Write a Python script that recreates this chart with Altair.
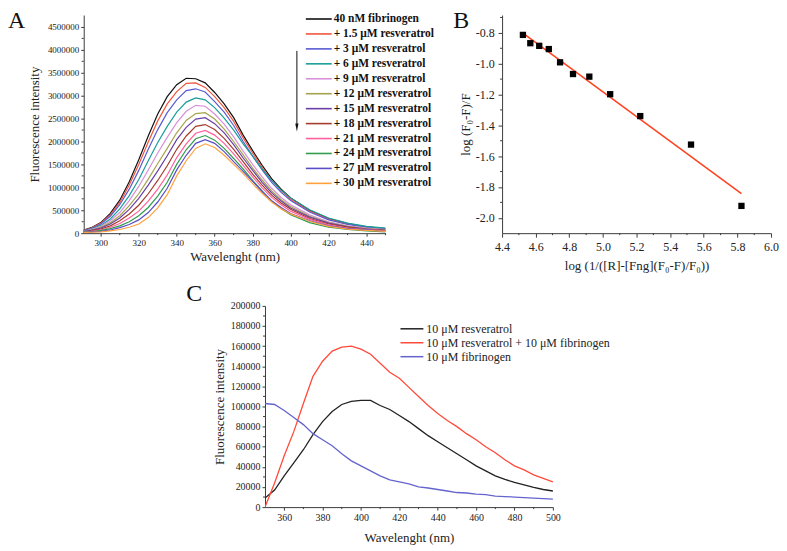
import altair as alt
import pandas as pd

FONT = "Liberation Serif"
INK = "#222222"
AXC = "#3c3c3c"

# ---------------- Panel A : fluorescence quenching spectra ----------------
wl_a = [290, 295, 300, 305, 310, 315, 320, 325, 330, 335, 340, 345, 350, 355,
        360, 365, 370, 375, 380, 385, 390, 395, 400, 410, 420, 430, 440, 450]
names_a = ["40 nM fibrinogen", "+ 1.5 μM resveratrol", "+ 3 μM resveratrol",
           "+ 6 μM resveratrol", "+ 9 μM resveratrol", "+ 12 μM resveratrol",
           "+ 15 μM resveratrol", "+ 18 μM resveratrol", "+ 21 μM resveratrol",
           "+ 24 μM resveratrol", "+ 27 μM resveratrol", "+ 30 μM resveratrol"]
colors_a = ["#111111", "#f2553c", "#5a5ad2", "#1a9c9c", "#d890d8", "#a4a44c",
            "#6b3fa6", "#a53c2d", "#ff5f9c", "#2f9d4c", "#5b4dc8", "#ffa23f"]
# intensities in units of 1e6
a0 = [.05, .12, .23, .43, .72, 1.12, 1.60, 2.12, 2.60, 2.98, 3.24, 3.38, 3.37, 3.28,
      3.07, 2.82, 2.52, 2.14, 1.80, 1.48, 1.19, .96, .77, .50, .32, .21, .14, .10]
a1 = [.05, .11, .22, .40, .67, 1.05, 1.50, 1.99, 2.45, 2.82, 3.09, 3.27, 3.28, 3.18,
      2.98, 2.74, 2.44, 2.08, 1.75, 1.43, 1.15, .93, .74, .48, .31, .20, .13, .10]
a2 = [.04, .10, .20, .37, .62, .96, 1.37, 1.83, 2.26, 2.63, 2.91, 3.11, 3.15, 3.08,
      2.87, 2.64, 2.35, 2.00, 1.68, 1.38, 1.11, .89, .71, .46, .29, .19, .13, .09]
a3 = [.04, .09, .17, .31, .53, .82, 1.17, 1.58, 1.98, 2.33, 2.64, 2.86, 2.95, 2.91,
      2.74, 2.51, 2.25, 1.95, 1.68, 1.40, 1.15, .94, .77, .51, .33, .22, .15, .11]
a4 = [.03, .08, .15, .27, .45, .71, 1.02, 1.38, 1.75, 2.09, 2.41, 2.66, 2.79, 2.77,
      2.60, 2.38, 2.10, 1.79, 1.50, 1.23, .98, .78, .62, .40, .25, .16, .11, .08]
a5 = [.03, .07, .13, .23, .38, .60, .86, 1.18, 1.52, 1.85, 2.19, 2.46, 2.61, 2.63,
      2.49, 2.27, 2.00, 1.71, 1.42, 1.16, .92, .73, .58, .37, .23, .15, .10, .07]
a6 = [.03, .06, .11, .20, .33, .52, .76, 1.05, 1.36, 1.69, 2.04, 2.31, 2.49, 2.52,
      2.39, 2.19, 1.93, 1.64, 1.37, 1.11, .88, .70, .55, .35, .22, .14, .09, .06]
a7 = [.02, .05, .09, .16, .27, .42, .61, .86, 1.15, 1.47, 1.83, 2.12, 2.33, 2.37,
      2.26, 2.07, 1.83, 1.56, 1.29, 1.05, .83, .66, .52, .32, .20, .13, .08, .06]
a8 = [.02, .04, .07, .13, .21, .33, .48, .70, .96, 1.27, 1.65, 1.95, 2.18, 2.24,
      2.14, 1.96, 1.73, 1.48, 1.23, .99, .78, .62, .48, .30, .18, .11, .08, .05]
a9 = [.02, .03, .06, .10, .16, .25, .38, .56, .81, 1.11, 1.50, 1.82, 2.06, 2.13,
      2.03, 1.85, 1.63, 1.40, 1.15, .92, .70, .54, .40, .23, .13, .08, .05, .03]
a10 = [.01, .03, .04, .07, .12, .19, .29, .45, .68, .98, 1.38, 1.70, 1.96, 2.04,
       1.96, 1.78, 1.56, 1.35, 1.13, .91, .71, .56, .43, .27, .16, .10, .07, .04]
a11 = [.01, .02, .03, .05, .08, .13, .20, .34, .55, .84, 1.25, 1.58, 1.85, 1.95,
       1.87, 1.70, 1.50, 1.30, 1.08, .87, .68, .53, .42, .26, .15, .09, .06, .04]
values_a = [a0, a1, a2, a3, a4, a5, a6, a7, a8, a9, a10, a11]
ticks_x_a = [300, 320, 340, 360, 380, 400, 420, 440]
minor_x_a = [310, 330, 350, 370, 390, 410, 430, 450]
ticks_y_a = [0, 500000, 1000000, 1500000, 2000000, 2500000, 3000000, 3500000, 4000000, 4500000]
minor_y_a = [250000, 750000, 1250000, 1750000, 2250000, 2750000, 3250000, 3750000, 4250000]

# ---------------- Panel B : double-log plot ----------------
b_x = [4.524, 4.568, 4.621, 4.678, 4.745, 4.822, 4.919, 5.043, 5.222, 5.524, 5.824]
b_y = [-0.813, -0.867, -0.884, -0.905, -0.991, -1.067, -1.084, -1.198, -1.340, -1.525, -1.923]
ticks_x_b = [4.4, 4.6, 4.8, 5.0, 5.2, 5.4, 5.6, 5.8, 6.0]
minor_x_b = [4.5, 4.7, 4.9, 5.1, 5.3, 5.5, 5.7, 5.9]
ticks_y_b = [-2.0, -1.8, -1.6, -1.4, -1.2, -1.0, -0.8]
minor_y_b = [-1.9, -1.7, -1.5, -1.3, -1.1, -0.9, -0.7]

# ---------------- Panel C : resveratrol emission ----------------
wl_c = [350, 355, 360, 365, 370, 375, 380, 385, 390, 395, 400, 405, 410, 415, 420, 425,
        430, 435, 440, 445, 450, 455, 460, 465, 470, 475, 480, 485, 490, 495, 500]
names_c = ["10 μM resveratrol", "10 μM resveratrol + 10 μM fibrinogen", "10 μM fibrinogen"]
colors_c = ["#222222", "#ff4a3a", "#6464cc"]
# intensities in units of 1e3
c_res = [9, 17, 31, 44, 57, 72, 85, 95, 102, 105, 106, 106, 101, 97, 91, 85,
         78, 71, 65, 59, 53, 47, 41, 36, 31, 27.5, 24.5, 22, 19.5, 17.5, 16]
c_mix = [0, 24, 51, 75, 103, 130, 145, 155, 159, 160, 157, 152, 143, 134, 128, 119,
         110, 101, 93, 86, 80, 73, 67, 60, 54, 47, 41, 37, 32, 28.5, 25]
c_fng = [103, 102, 96, 89, 82, 73, 67, 61, 53, 46, 41, 36, 31, 27, 25, 23,
         20, 19, 17.5, 16, 14.5, 14, 13, 12.5, 11, 10.5, 10, 9.5, 9, 8.5, 8]
values_c = [c_res, c_mix, c_fng]
ticks_x_c = [360, 380, 400, 420, 440, 460, 480, 500]
minor_x_c = [370, 390, 410, 430, 450, 470, 490]
ticks_y_c = [0, 20000, 40000, 60000, 80000, 100000, 120000, 140000, 160000, 180000, 200000]
minor_y_c = [10000, 30000, 50000, 70000, 90000, 110000, 130000, 150000, 170000, 190000]


def axis(values, title, fmt, lsize, tsize, tick, pad, tpad, expr=None):
    kw = dict(values=values, title=title, format=fmt, labelFont=FONT, labelFontSize=lsize,
              labelColor=INK, titleFont=FONT, titleFontSize=tsize, titleFontWeight="normal",
              titleColor=INK, tickSize=tick, labelPadding=pad, titlePadding=tpad,
              domainColor=AXC, tickColor=AXC, grid=False, labelFlush=False,
              labelOverlap=False, domainWidth=1, tickWidth=1)
    if expr is not None:
        kw["labelExpr"] = expr
    return alt.Axis(**kw)


def panel_label(letter, dx, dy):
    return alt.Chart(pd.DataFrame({"t": [letter]})).mark_text(
        font=FONT, fontSize=24, align="left", baseline="top", color="#111111"
    ).encode(text="t:N", x=alt.value(dx), y=alt.value(dy))


def ghost(x, y):
    return alt.Chart(pd.DataFrame({"g": [0]})).mark_rule(opacity=0, strokeWidth=0).encode(
        x=alt.value(x), y=alt.value(y), y2=alt.value(y + 1))


def minor_x(field, vals, scale, ax, h):
    return alt.Chart(pd.DataFrame({field: vals})).mark_rule(color=AXC, strokeWidth=1).encode(
        x=alt.X(f"{field}:Q", scale=scale, axis=ax), y=alt.value(h), y2=alt.value(h + 2))


def minor_y(field, vals, scale, ax):
    return alt.Chart(pd.DataFrame({field: vals})).mark_rule(color=AXC, strokeWidth=1).encode(
        y=alt.Y(f"{field}:Q", scale=scale, axis=ax), x=alt.value(0), x2=alt.value(-2))


MINUS = "replace(datum.label, '\u2212', '-')"

# ---------- build A ----------
WA, HA = 303, 219
rows_a = []
for name, vals in zip(names_a, values_a):
    for w, v in zip(wl_a, vals):
        rows_a.append({"wl": w, "val": v * 1e6, "series": name})
df_a = pd.DataFrame(rows_a)
xa = alt.Scale(domain=[291, 450], nice=False, zero=False)
ya = alt.Scale(domain=[0, 4760000], nice=False, zero=False)
xa_ax = axis(ticks_x_a, "Wavelenght (nm)", "d", 9, 13, 3, 2, 3)
ya_ax = axis(ticks_y_a, "Fluorescence intensity", "d", 9, 13, 3, 2, 6)
col_a = alt.Scale(domain=names_a, range=colors_a)

lines_a = alt.Chart(df_a).mark_line(strokeWidth=1.2, clip=True).encode(
    x=alt.X("wl:Q", scale=xa, axis=xa_ax),
    y=alt.Y("val:Q", scale=ya, axis=ya_ax),
    color=alt.Color("series:N", scale=col_a, legend=None),
)
leg_a = pd.DataFrame({"series": names_a, "row": list(range(len(names_a)))})
leg_rules_a = alt.Chart(leg_a).transform_calculate(py="4 + datum.row * 15").mark_rule(
    strokeWidth=1.6).encode(
    x=alt.value(223), x2=alt.value(249), y=alt.Y("py:Q", scale=None, axis=None),
    color=alt.Color("series:N", scale=col_a, legend=None))
leg_text_a = alt.Chart(leg_a).transform_calculate(py="4 + datum.row * 15").mark_text(
    align="left", baseline="middle", font=FONT, fontSize=11.5, fontWeight="bold",
    color="#111111").encode(
    x=alt.value(251), y=alt.Y("py:Q", scale=None, axis=None), text="series:N")
arrow_line = alt.Chart(pd.DataFrame({"g": [0]})).mark_rule(color="#111111", strokeWidth=1).encode(
    x=alt.value(214), y=alt.value(36), y2=alt.value(112))
arrow_head = alt.Chart(pd.DataFrame({"g": [0]})).mark_point(
    shape="M-0.4,-1L0,1L0.4,-1Z", filled=True, size=64, color="#111111", opacity=1).encode(
    x=alt.value(214), y=alt.value(113))

chart_a = alt.layer(
    lines_a, minor_x("wl", minor_x_a, xa, xa_ax, HA), minor_y("val", minor_y_a, ya, ya_ax),
    leg_rules_a, leg_text_a, arrow_line, arrow_head,
    panel_label("A", -76, -6), ghost(-76, -6), ghost(0, 266),
).properties(width=WA, height=HA)

# ---------- build B ----------
WB, HB = 270, 219
df_b = pd.DataFrame({"lx": b_x, "ly": b_y})
xb = alt.Scale(domain=[4.4, 6.0], nice=False, zero=False)
yb = alt.Scale(domain=[-2.1, -0.684], nice=False, zero=False)
bx_axis = axis(ticks_x_b, "log (1/([R]-[Fng](F₀-F)/F₀))", ".1f", 12, 13, 4, 4, 7)
by_axis = axis(ticks_y_b, "log (F₀-F)/F", ".1f", 12, 13, 4, 4, 3, MINUS)
fit_b = alt.Chart(df_b).transform_regression("lx", "ly").mark_line(
    color="#ff4422", strokeWidth=1.6).encode(
    x=alt.X("lx:Q", scale=xb, axis=bx_axis), y=alt.Y("ly:Q", scale=yb, axis=by_axis))
pts_b = alt.Chart(df_b).mark_square(size=40, color="#000000", opacity=1).encode(
    x=alt.X("lx:Q", scale=xb, axis=bx_axis), y=alt.Y("ly:Q", scale=yb, axis=by_axis))
chart_b = alt.layer(
    fit_b, pts_b, minor_x("lx", minor_x_b, xb, bx_axis, HB), minor_y("ly", minor_y_b, yb, by_axis),
    panel_label("B", -49, -6),
).properties(width=WB, height=HB)

# ---------- build C ----------
WC, HC = 289, 202
rows_c = []
for name, vals in zip(names_c, values_c):
    for w, v in zip(wl_c, vals):
        rows_c.append({"cw": w, "cv": v * 1e3, "cser": name})
df_c = pd.DataFrame(rows_c)
xc = alt.Scale(domain=[350, 500], nice=False, zero=False)
yc = alt.Scale(domain=[0, 200000], nice=False, zero=False)
xc_ax = axis(ticks_x_c, "Wavelenght (nm)", "d", 10, 13, 3, 2, 10)
yc_ax = axis(ticks_y_c, "Fluorescence intensity", "d", 10, 13, 3, 2, 4)
col_c = alt.Scale(domain=names_c, range=colors_c)
lines_c = alt.Chart(df_c).mark_line(strokeWidth=1.3, clip=True).encode(
    x=alt.X("cw:Q", scale=xc, axis=xc_ax),
    y=alt.Y("cv:Q", scale=yc, axis=yc_ax),
    color=alt.Color("cser:N", scale=col_c, legend=None),
)
leg_c = pd.DataFrame({"cser": names_c, "row": list(range(len(names_c)))})
leg_rules_c = alt.Chart(leg_c).transform_calculate(py="23 + datum.row * 14").mark_rule(
    strokeWidth=1.5).encode(
    x=alt.value(136), x2=alt.value(159), y=alt.Y("py:Q", scale=None, axis=None),
    color=alt.Color("cser:N", scale=col_c, legend=None))
leg_text_c = alt.Chart(leg_c).transform_calculate(py="23 + datum.row * 14").mark_text(
    align="left", baseline="middle", font=FONT, fontSize=12, color="#222222").encode(
    x=alt.value(162), y=alt.Y("py:Q", scale=None, axis=None), text="cser:N")

chart_c = alt.layer(
    lines_c, minor_x("cw", minor_x_c, xc, xc_ax, HC), minor_y("cv", minor_y_c, yc, yc_ax),
    leg_rules_c, leg_text_c, panel_label("C", -79, -24), ghost(0, -25),
).properties(width=WC, height=HC)

spacer = alt.Chart(pd.DataFrame({"g": [0]})).mark_rule(opacity=0, strokeWidth=0).encode(
    x=alt.value(0), y=alt.value(0), y2=alt.value(1)).properties(width=182, height=HC)

top = alt.hconcat(chart_a, chart_b, spacing=117, bounds="flush")
bottom = alt.hconcat(spacer, chart_c, spacing=0, bounds="flush")
chart = alt.vconcat(top, bottom, spacing=0).resolve_scale(
    color="independent").properties(
    padding={"left": 0, "top": 0, "right": 0, "bottom": 0}
).configure_view(strokeWidth=0)

chart.save("out.html", embed_options={"renderer": "svg", "actions": False})
